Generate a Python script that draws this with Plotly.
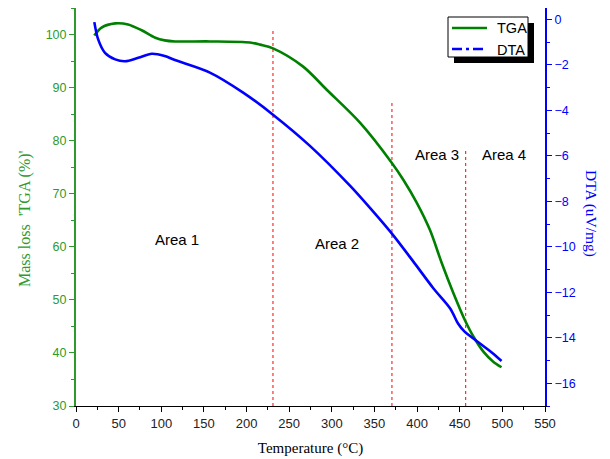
import plotly.graph_objects as go

# ---- data ----
tga_temp = [21.5, 30, 46, 61, 77, 93, 104, 116, 157, 204, 216, 231, 266, 294, 333, 370, 384, 400, 415, 429, 442.5, 456, 466, 478, 489, 499]
tga_mass = [99.8, 101.3, 102.1, 101.9, 100.8, 99.4, 98.9, 98.7, 98.7, 98.5, 98.1, 97.4, 94.0, 89.6, 83.4, 75.9, 72.6, 68.2, 63.2, 56.9, 51.3, 46.2, 43.1, 40.2, 38.4, 37.3]

dta_temp = [21.5, 26, 34, 46, 57.5, 73, 89, 104, 116, 157, 196, 231, 274, 321, 345, 370, 395, 419, 439, 448, 456, 466, 478, 489, 499]
dta_val = [-0.12, -0.88, -1.47, -1.76, -1.84, -1.69, -1.51, -1.61, -1.79, -2.34, -3.22, -4.19, -5.55, -7.3, -8.3, -9.40, -10.62, -11.82, -12.72, -13.37, -13.74, -14.03, -14.37, -14.69, -15.02]

boundary_temp = [231, 370.5, 457]
boundary_top = [101, 87.5, 78.3]

area_labels = ["Area 1", "Area 2", "Area 3", "Area 4"]
area_x = [119, 306, 423, 502]
area_y = [61.3, 60.7, 77.3, 77.3]

series_names = ["TGA", "DTA"]

GREEN_LINE = "#008000"
GREEN_AX = "#2e9a2e"
BLUE = "#0000ff"
SANS = "Arial, Liberation Sans, sans-serif"
SERIF = "Times New Roman, Liberation Serif, serif"

# page offset (browser body margin of 8px)
OFF = 8
PL, PR, PT, PB = 76, 545, 8, 406  # plot area in page pixels


def px(xp):
    return (xp - PL) / (PR - PL)


def py(yp):
    return (PB - yp) / (PB - PT)


fig = go.Figure()

fig.add_trace(go.Scatter(x=tga_temp, y=tga_mass, mode="lines", name=series_names[0],
                         line=dict(color=GREEN_LINE, width=2.6, shape="spline", smoothing=0.9),
                         yaxis="y"))
fig.add_trace(go.Scatter(x=dta_temp, y=dta_val, mode="lines", name=series_names[1],
                         line=dict(color=BLUE, width=2.6, shape="spline", smoothing=0.9),
                         yaxis="y2"))

shapes = []
for t, top in zip(boundary_temp, boundary_top):
    shapes.append(dict(type="line", xref="x", yref="y", x0=t, x1=t, y0=30, y1=top,
                       line=dict(color="red", width=1, dash="dot"), layer="below"))

# legend box (drawn manually to match the boxed, shadowed legend)
shapes.append(dict(type="rect", xref="paper", yref="paper",
                   x0=px(454), x1=px(534), y0=py(63), y1=py(23),
                   fillcolor="black", line=dict(width=0), layer="above"))
shapes.append(dict(type="rect", xref="paper", yref="paper",
                   x0=px(448), x1=px(528), y0=py(57), y1=py(17),
                   fillcolor="white", line=dict(color="black", width=1), layer="above"))
legend_rows = [(28, GREEN_LINE, "solid"), (49, BLUE, "10px,4px,3px,4px")]
annotations = []
for (yrow, col, dash), name in zip(legend_rows, series_names):
    shapes.append(dict(type="line", xref="paper", yref="paper",
                       x0=px(452), x1=px(487), y0=py(yrow), y1=py(yrow),
                       line=dict(color=col, width=2.6, dash=dash), layer="above"))
    annotations.append(dict(x=px(495), y=py(yrow + 0.5), xref="paper", yref="paper", text=name,
                            showarrow=False, xanchor="left", yanchor="middle",
                            font=dict(family=SANS, size=14.5, color="black")))

for lab, ax_, ay_ in zip(area_labels, area_x, area_y):
    annotations.append(dict(x=ax_, y=ay_, xref="x", yref="y", text=lab, showarrow=False,
                            font=dict(family=SANS, size=15, color="black")))

# axis titles
annotations.append(dict(x=px(25), y=py(219), xref="paper", yref="paper",
                        text="Mass loss  'TGA (%)'", showarrow=False, textangle=-90,
                        xanchor="center", yanchor="middle",
                        font=dict(family=SERIF, size=16, color=GREEN_AX)))
annotations.append(dict(x=px(591), y=py(213), xref="paper", yref="paper",
                        text="DTA (uV/mg)", showarrow=False, textangle=90,
                        xanchor="center", yanchor="middle",
                        font=dict(family=SERIF, size=15.5, color=BLUE)))

fig.update_layout(
    width=610 - OFF, height=459 - OFF,
    margin=dict(l=PL - OFF, r=610 - PR, t=PT - OFF, b=459 - PB, autoexpand=False),
    paper_bgcolor="white", plot_bgcolor="white",
    showlegend=False,
    shapes=shapes,
    annotations=annotations,
    xaxis=dict(range=[0, 550], tickmode="linear", tick0=0, dtick=50,
               showgrid=False, zeroline=False, showline=True, linecolor="black", linewidth=1.3,
               ticks="outside", ticklen=5, tickcolor="black",
               minor=dict(ticks="outside", ticklen=3, dtick=25, tickcolor="black", showgrid=False),
               tickfont=dict(family=SANS, size=13, color="#222"),
               title=dict(text="Temperature (°C)", font=dict(family=SERIF, size=15, color="black"), standoff=12)),
    yaxis=dict(range=[30, 105], tickmode="linear", tick0=30, dtick=10,
               showgrid=False, zeroline=False, showline=True, linecolor=GREEN_AX, linewidth=2,
               ticks="outside", ticklen=5, tickcolor=GREEN_AX,
               minor=dict(ticks="outside", ticklen=3, dtick=5, tickcolor=GREEN_AX, showgrid=False),
               tickfont=dict(family=SANS, size=12.5, color=GREEN_AX)),
    yaxis2=dict(range=[-17, 0.5], overlaying="y", side="right", tickmode="linear", tick0=0, dtick=2,
                showgrid=False, zeroline=False, showline=True, linecolor=BLUE, linewidth=2,
                ticks="outside", ticklen=5, tickcolor=BLUE,
                minor=dict(ticks="outside", ticklen=3, dtick=1, tickcolor=BLUE, showgrid=False),
                tickfont=dict(family=SANS, size=12.5, color=BLUE)),
)

fig.write_html("out.html")
